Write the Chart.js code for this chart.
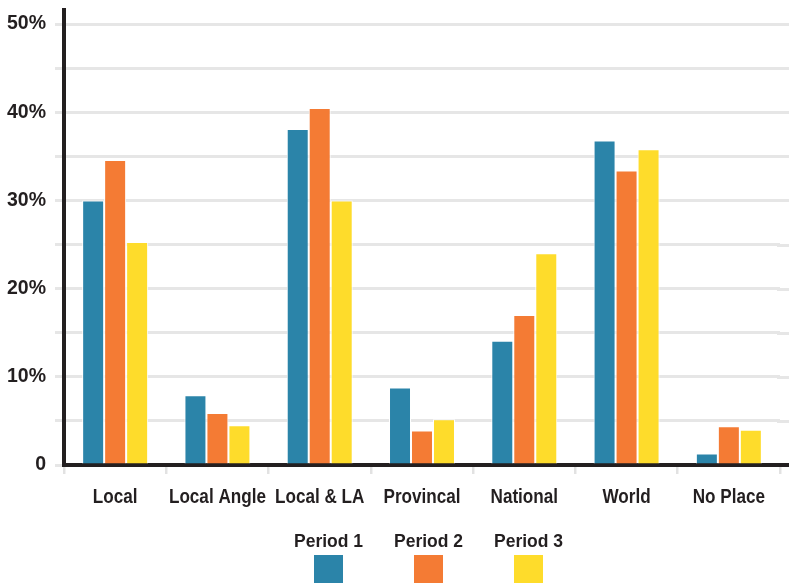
<!DOCTYPE html>
<html>
<head>
<meta charset="utf-8">
<script src="https://cdn.jsdelivr.net/npm/chart.js@4.4.0/dist/chart.umd.min.js"></script>
<style>
  html, body { margin: 0; padding: 0; background: #fff; }
  #wrap { width: 789px; height: 583px; position: relative; }
</style>
</head>
<body>
<div id="wrap"><canvas id="c" width="789" height="583"></canvas></div>
<script>
// Share of items by place focus, per period (percent)
const categories = ['Local', 'Local Angle', 'Local & LA', 'Provincal', 'National', 'World', 'No Place'];
const seriesNames = ['Period 1', 'Period 2', 'Period 3'];
const period1 = [30.0, 7.9, 38.1, 8.8, 14.1, 36.8, 1.3];
const period2 = [34.6, 5.9, 40.5, 3.9, 17.0, 33.4, 4.4];
const period3 = [25.3, 4.5, 30.0, 5.2, 24.0, 35.8, 4.0];
const yTickValues = [0, 5, 10, 15, 20, 25, 30, 35, 40, 45, 50];
const seriesColors = ['#2b84a9', '#f47b34', '#fedc2b'];

const INK = '#231f20';
const GRID = '#e6e6e6';
const SANS = "'Liberation Sans', Arial, sans-serif";

// Horizontal rules and the baseline run on past the plot area to the right edge
const gridToEdge = {
  id: 'gridToEdge',
  beforeDatasetsDraw(chart) {
    const { ctx, chartArea } = chart;
    const ys = chart.scales.y;
    ctx.save();
    ctx.strokeStyle = GRID;
    ctx.lineWidth = 3;
    ctx.lineCap = 'butt';
    ys.ticks.forEach(t => {
      if (t.value === 0) return;
      const py = Math.round(ys.getPixelForValue(t.value)) + 0.5;
      ctx.beginPath();
      ctx.moveTo(chartArea.right - 3, py);
      ctx.lineTo(chart.width, py);
      ctx.stroke();
    });
    ctx.restore();
  },
  afterDraw(chart) {
    const { ctx, chartArea } = chart;
    const b = Math.round(chartArea.bottom);
    ctx.save();
    ctx.fillStyle = INK;
    ctx.fillRect(chartArea.right - 3, b - 2, chart.width - chartArea.right + 3, 4);
    ctx.restore();
  }
};

// Category names: bold type squeezed horizontally for a condensed look
const condensedCategoryLabels = {
  id: 'condensedCategoryLabels',
  afterDraw(chart) {
    const ctx = chart.ctx;
    const xs = chart.scales.x;
    const squeeze = 0.815;
    ctx.save();
    ctx.font = 'bold 21px ' + SANS;
    ctx.fillStyle = INK;
    ctx.textAlign = 'center';
    ctx.textBaseline = 'alphabetic';
    chart.data.labels.forEach((lab, i) => {
      const x = xs.getPixelForTick(i);
      ctx.save();
      ctx.translate(x, 503);
      ctx.scale(squeeze, 1);
      ctx.fillText(lab, 0, 0);
      ctx.restore();
    });
    ctx.restore();
  }
};

// Legend drawn under the axis: label on top, colour block beneath
const bottomLegend = {
  id: 'bottomLegend',
  afterDraw(chart) {
    const ctx = chart.ctx;
    const area = chart.chartArea;
    const mid = (area.left + area.right) / 2 + 6.5;
    const step = 100;
    ctx.save();
    ctx.font = 'bold 17.5px ' + SANS;
    ctx.textAlign = 'center';
    ctx.textBaseline = 'alphabetic';
    chart.data.datasets.forEach((ds, i) => {
      const cx = mid + (i - 1) * step;
      ctx.fillStyle = INK;
      ctx.fillText(ds.label, cx, 547);
      ctx.fillStyle = ds.backgroundColor;
      ctx.fillRect(Math.round(cx - 14.5), 555, 29, 30);
    });
    ctx.restore();
  }
};

const datasets = [period1, period2, period3].map((vals, i) => ({
  label: seriesNames[i],
  data: vals,
  backgroundColor: seriesColors[i],
  borderColor: '#ffffff',
  borderWidth: { top: 1, left: 1, right: 1, bottom: 0 },
  borderSkipped: 'bottom',
  barPercentage: 1.0,
  categoryPercentage: 0.645
}));

new Chart(document.getElementById('c'), {
  type: 'bar',
  data: { labels: categories, datasets },
  options: {
    responsive: false,
    animation: false,
    layout: { padding: { top: 10, right: 9, bottom: 68, left: 0 } },
    plugins: {
      legend: { display: false },
      tooltip: { enabled: false }
    },
    scales: {
      x: {
        offset: true,
        z: 1,
        grid: {
          display: true,
          drawOnChartArea: false,
          drawTicks: true,
          tickLength: 9,
          color: (c) => (c.index === categories.length ? 'rgba(0,0,0,0)' : '#e2e2e2'),
          lineWidth: 2.5
        },
        border: { display: true, color: INK, width: 4 },
        ticks: { display: false, autoSkip: false },
        afterFit(scale) {
          scale.height = 50;
          scale.paddingLeft = 0;
          scale.paddingRight = 0;
        }
      },
      y: {
        min: 0,
        max: 51.6,
        afterBuildTicks(scale) {
          scale.ticks = yTickValues.map(v => ({ value: v }));
        },
        grid: {
          color: GRID,
          lineWidth: 3,
          drawTicks: true,
          tickLength: 9
        },
        border: { display: true, color: INK, width: 4 },
        ticks: {
          color: INK,
          font: { family: SANS, size: 19.5, weight: 'bold' },
          padding: 9,
          callback(v) {
            if (v % 10 !== 0) return '';
            return v === 0 ? '0' : v + '%';
          }
        },
        afterFit(scale) {
          scale.width = 64;
          scale.paddingTop = 0;
          scale.paddingBottom = 0;
        }
      }
    }
  },
  plugins: [gridToEdge, condensedCategoryLabels, bottomLegend]
});
</script>
</body>
</html>
